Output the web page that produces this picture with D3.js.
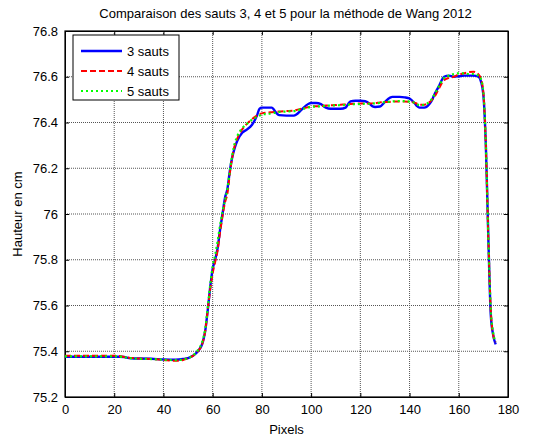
<!DOCTYPE html>
<html><head><meta charset="utf-8">
<script src="https://cdn.jsdelivr.net/npm/d3@7"></script>
<style>body{margin:0;background:#fff}svg{display:block;font-family:"Liberation Sans",Arial,sans-serif}</style>
</head><body><svg id="c" width="533" height="439"></svg>
<script>
const pixels = [0,5,10,15,20,22,24,26,28,30,35,40,45,48,50,52,54,56,57,58,59,60,61,62,63,64,65,66,67,68,69,70,72,74,76,78,79,80,82,84,85,86,87,90,93,94,96,98,99,100,102,104,105,106,108,110,112,114,115,116,118,120,122,124,125,126,128,130,132,133,134,136,138,140,142,143,144,146,148,149,150,152,154,156,158,160,162,164,166,168,169,170,171,172,173,174,175];
const sauts3 = [75.376,75.376,75.376,75.376,75.376,75.376,75.375,75.370,75.368,75.368,75.367,75.364,75.363,75.366,75.370,75.380,75.400,75.440,75.490,75.580,75.680,75.760,75.800,75.850,75.930,76.000,76.070,76.110,76.190,76.250,76.290,76.320,76.355,76.370,76.390,76.430,76.460,76.465,76.465,76.465,76.455,76.440,76.432,76.430,76.430,76.435,76.455,76.475,76.482,76.485,76.485,76.480,76.472,76.465,76.460,76.460,76.460,76.465,76.480,76.492,76.495,76.495,76.493,76.480,76.470,76.468,76.470,76.490,76.508,76.512,76.512,76.512,76.510,76.505,76.485,76.472,76.465,76.465,76.480,76.495,76.520,76.560,76.600,76.605,76.600,76.602,76.605,76.605,76.605,76.600,76.580,76.520,76.300,75.900,75.560,75.470,75.430];
const sauts4 = [75.380,75.380,75.380,75.380,75.380,75.379,75.375,75.372,75.370,75.368,75.366,75.362,75.358,75.362,75.370,75.380,75.400,75.440,75.490,75.580,75.670,75.740,75.790,75.840,75.920,75.990,76.050,76.090,76.180,76.250,76.300,76.330,76.370,76.395,76.415,76.430,76.436,76.440,76.443,76.445,76.446,76.447,76.448,76.450,76.452,76.455,76.460,76.465,76.468,76.470,76.471,76.472,76.473,76.474,76.475,76.476,76.478,76.479,76.480,76.481,76.482,76.483,76.483,76.483,76.484,76.485,76.488,76.490,76.490,76.491,76.492,76.492,76.492,76.490,76.487,76.482,76.478,76.478,76.488,76.498,76.510,76.550,76.585,76.595,76.600,76.610,76.615,76.620,76.622,76.610,76.590,76.530,76.300,75.900,75.580,75.470,75.440];
const sauts5 = [75.378,75.378,75.378,75.378,75.378,75.377,75.374,75.370,75.368,75.367,75.366,75.363,75.361,75.364,75.370,75.382,75.405,75.450,75.500,75.590,75.690,75.770,75.820,75.880,75.950,76.010,76.060,76.110,76.190,76.260,76.310,76.340,76.375,76.395,76.412,76.425,76.430,76.435,76.437,76.440,76.442,76.444,76.446,76.448,76.450,76.452,76.458,76.463,76.466,76.468,76.470,76.471,76.472,76.473,76.474,76.475,76.476,76.477,76.478,76.479,76.480,76.481,76.482,76.482,76.483,76.484,76.486,76.489,76.491,76.492,76.493,76.494,76.493,76.491,76.486,76.480,76.476,76.478,76.490,76.502,76.520,76.560,76.595,76.605,76.612,76.615,76.615,76.612,76.612,76.605,76.590,76.530,76.300,75.900,75.580,75.480,75.440];
const xTicks = [0,20,40,60,80,100,120,140,160,180];
const yTicks = [75.2,75.4,75.6,75.8,76,76.2,76.4,76.6,76.8];
const seriesNames = ["3 sauts","4 sauts","5 sauts"];

const L=65,R=508,T=31,B=397;
const svg=d3.select("#c");
const x=d3.scaleLinear().domain([0,180]).range([L,R]);
const y=d3.scaleLinear().domain([75.2,76.8]).range([B,T]);

// grid
const g=svg.append("g");
g.selectAll("line.vx").data(xTicks.slice(1,-1)).join("line")
 .attr("x1",d=>x(d)).attr("x2",d=>x(d)).attr("y1",T).attr("y2",B)
 .attr("stroke","#555").attr("stroke-width",1).attr("stroke-dasharray","1,1");
g.selectAll("line.hy").data(yTicks.slice(1,-1)).join("line")
 .attr("x1",L).attr("x2",R).attr("y1",d=>y(d)).attr("y2",d=>y(d))
 .attr("stroke","#555").attr("stroke-width",1).attr("stroke-dasharray","1,1");

// axes
const fmtY=d=>d===76?"76":d3.format(".1f")(d);
svg.append("g").attr("transform",`translate(0,${B})`)
 .call(d3.axisBottom(x).tickValues(xTicks).tickSizeInner(-4).tickSizeOuter(0).tickPadding(8));
svg.append("g").attr("transform",`translate(${L},0)`)
 .call(d3.axisLeft(y).tickValues(yTicks).tickFormat(fmtY).tickSizeInner(-4).tickSizeOuter(0).tickPadding(7));
svg.append("g").attr("transform",`translate(0,${T})`)
 .call(d3.axisTop(x).tickValues(xTicks).tickSizeInner(-4).tickSizeOuter(0).tickFormat(""));
svg.append("g").attr("transform",`translate(${R},0)`)
 .call(d3.axisRight(y).tickValues(yTicks).tickSizeInner(-4).tickSizeOuter(0).tickFormat(""));
svg.selectAll(".domain").attr("stroke","#000");
svg.selectAll(".tick text").attr("font-size",13).attr("fill","#000").attr("font-family","Liberation Sans, Arial, sans-serif");
svg.append("rect").attr("x",L).attr("y",T).attr("width",R-L).attr("height",B-T).attr("fill","none").attr("stroke","#000").attr("stroke-width",1.2);

// lines
const styles=[{c:"#0000ff",w:2.4,d:null},{c:"#ff0000",w:2,d:"6,3"},{c:"#00ff00",w:2.2,d:"2,3"}];
const data=[sauts3,sauts4,sauts5];
const line=d3.line().x((d,i)=>x(pixels[i])).y(d=>y(d)).curve(d3.curveMonotoneX);
data.forEach((s,k)=>{
 svg.append("path").datum(s).attr("d",line).attr("fill","none")
  .attr("stroke",styles[k].c).attr("stroke-width",styles[k].w)
  .attr("stroke-dasharray",styles[k].d);
});

// legend
const lg=svg.append("g");
lg.append("rect").attr("x",73).attr("y",35).attr("width",106).attr("height",65).attr("fill","#fff").attr("stroke","#000").attr("stroke-width",1);
seriesNames.forEach((n,k)=>{
 const yy=51+k*20;
 lg.append("line").attr("x1",81).attr("x2",122).attr("y1",yy).attr("y2",yy)
  .attr("stroke",styles[k].c).attr("stroke-width",styles[k].w).attr("stroke-dasharray",styles[k].d);
 lg.append("text").attr("x",127).attr("y",yy+5).attr("font-size",13).text(n);
});

// labels
svg.append("text").attr("x",(L+R)/2-1).attr("y",18).attr("text-anchor","middle").attr("font-size",13).text("Comparaison des sauts 3, 4 et 5 pour la méthode de Wang 2012");
svg.append("text").attr("x",(L+R)/2).attr("y",434).attr("text-anchor","middle").attr("font-size",13).text("Pixels");
svg.append("text").attr("transform",`translate(22,${(T+B)/2}) rotate(-90)`).attr("text-anchor","middle").attr("font-size",13).text("Hauteur en cm");
</script></body></html>
